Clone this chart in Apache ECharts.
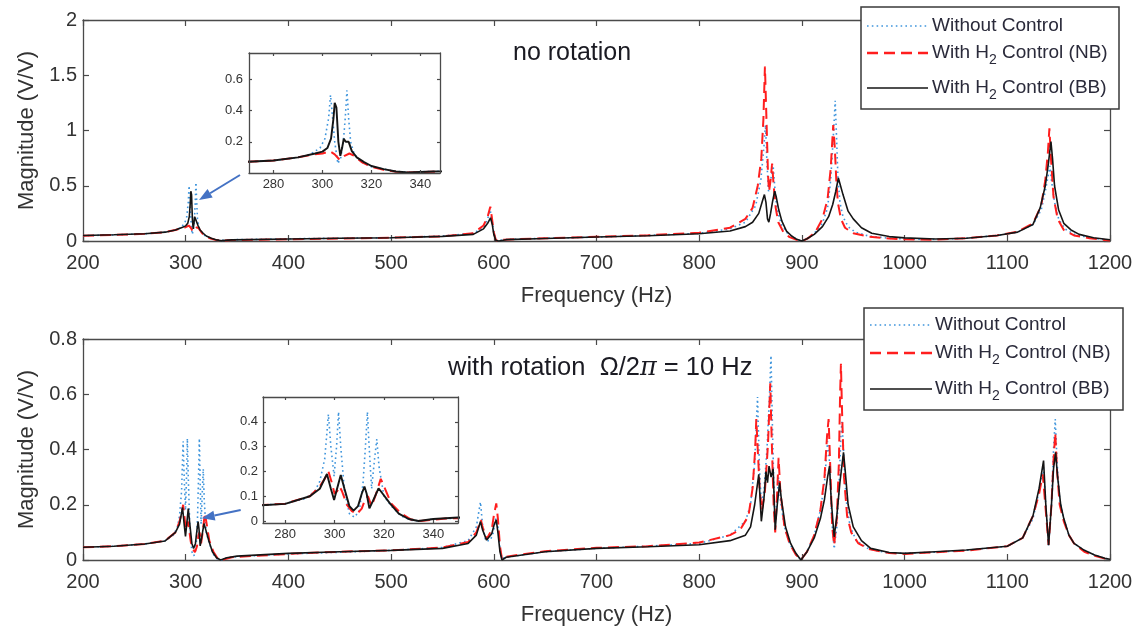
<!DOCTYPE html>
<html><head><meta charset="utf-8">
<script src="https://cdn.jsdelivr.net/npm/echarts@6/dist/echarts.min.js"></script>
<style>html,body{margin:0;padding:0;background:#fff}#c{width:1134px;height:628px}</style>
</head><body><div id="c"></div>
<script>
// ---------- DATA (frequency Hz, magnitude V/V) ----------
const legendNames = ['Without Control', 'With H2 Control (NB)', 'With H2 Control (BB)'];
const mainXTicks = [200,300,400,500,600,700,800,900,1000,1100,1200];
const topYTicks = [0,0.5,1,1.5,2];
const botYTicks = [0,0.2,0.4,0.6,0.8];
const insetXTicks = [280,300,320,340];
const topInsetYTicks = [0.2,0.4,0.6];
const botInsetYTicks = [0,0.1,0.2,0.3,0.4];

// no rotation
const topWithout = [[200,0.048],[230,0.055],[260,0.065],[280,0.08],[290,0.1],[295,0.12],[299,0.16],[301,0.22],[302.5,0.35],[303.3,0.5],[304,0.38],[305,0.2],[306.3,0.06],[307.5,0.1],[308.5,0.2],[309.3,0.35],[310,0.53],[310.7,0.35],[311.5,0.2],[313,0.12],[316,0.07],[320,0.04],[325,0.025],[330,0.01],[335,0.005],[340,0.008],[350,0.012],[400,0.02],[450,0.025],[500,0.03],[550,0.045],[580,0.07],[590,0.12],[594,0.2],[596.5,0.28],[598,0.2],[600,0.08],[602,0.01],[605,0.005],[615,0.015],[650,0.025],[700,0.035],[750,0.05],[800,0.07],[830,0.11],[845,0.17],[855,0.32],[860,0.55],[863,0.85],[864.5,1.05],[866,0.7],[867.5,0.45],[868.5,0.5],[870.5,0.6],[872,0.68],[873.5,0.5],[875.5,0.3],[880,0.15],[886,0.07],[892,0.03],[898,0.005],[900,0],[905,0.02],[912,0.07],[920,0.16],[925,0.3],[928,0.55],[930,0.85],[931.5,1.1],[932.4,1.27],[933.5,1.0],[935,0.6],[937,0.35],[940,0.22],[945,0.13],[952,0.08],[965,0.045],[985,0.025],[1000,0.018],[1030,0.015],[1060,0.025],[1090,0.05],[1110,0.08],[1125,0.15],[1133,0.28],[1137,0.45],[1140,0.6],[1141.5,0.68],[1143,0.55],[1146,0.35],[1150,0.2],[1156,0.11],[1165,0.06],[1180,0.03],[1195,0.012],[1200,0.008]];
const topNB = [[200,0.048],[230,0.055],[260,0.065],[280,0.08],[290,0.1],[297,0.12],[300,0.125],[303,0.14],[305,0.12],[307,0.085],[309,0.11],[311,0.125],[313,0.11],[316,0.07],[320,0.04],[325,0.02],[330,0.008],[335,0.003],[345,0.008],[400,0.015],[450,0.022],[500,0.03],[550,0.042],[580,0.07],[590,0.14],[594,0.22],[596.6,0.31],[598,0.22],[600,0.08],[602,0.01],[604,0],[610,0.012],[650,0.025],[700,0.038],[750,0.052],[800,0.075],[830,0.12],[845,0.2],[852,0.3],[857,0.5],[860.5,0.75],[862.5,1.1],[864,1.58],[865.5,1.1],[867,0.6],[868,0.45],[869.5,0.55],[871,0.7],[872.5,0.5],[874.5,0.3],[877,0.17],[882,0.08],[888,0.035],[895,0.01],[900,0],[906,0.025],[913,0.08],[920,0.2],[925,0.38],[928,0.65],[930.5,1.05],[932,0.85],[933.5,0.55],[935,0.35],[938,0.2],[942,0.12],[950,0.07],[965,0.04],[985,0.022],[1000,0.015],[1030,0.012],[1060,0.025],[1090,0.05],[1110,0.085],[1125,0.16],[1133,0.32],[1137,0.55],[1139.5,0.8],[1141,1.02],[1142.5,0.75],[1145,0.4],[1149,0.2],[1155,0.1],[1165,0.05],[1180,0.025],[1195,0.01],[1200,0.005]];
const topBB = [[200,0.05],[230,0.056],[260,0.066],[280,0.08],[290,0.1],[297,0.125],[300,0.137],[302,0.16],[303.5,0.22],[304.5,0.35],[305,0.45],[305.7,0.42],[306.5,0.2],[307.3,0.11],[308,0.16],[308.7,0.22],[309.5,0.2],[310.7,0.2],[312,0.14],[314,0.1],[317,0.07],[320,0.045],[325,0.025],[330,0.01],[335,0.003],[345,0.01],[400,0.018],[450,0.025],[500,0.03],[550,0.042],[580,0.06],[590,0.11],[594,0.16],[596.8,0.21],[598.5,0.15],[600,0.06],[602,0.005],[605,0],[612,0.012],[650,0.022],[700,0.036],[750,0.048],[800,0.065],[830,0.09],[845,0.13],[852,0.17],[858,0.25],[861.5,0.36],[863.5,0.42],[865,0.35],[866.5,0.2],[867.8,0.17],[869.5,0.25],[871.5,0.36],[873.5,0.45],[875,0.4],[877.5,0.28],[880.5,0.18],[885,0.09],[890,0.045],[895,0.015],[900,0],[905,0.02],[912,0.06],[920,0.13],[926,0.22],[930,0.33],[933,0.45],[935.5,0.57],[937,0.52],[940,0.42],[945,0.27],[950,0.2],[958,0.12],[968,0.07],[985,0.04],[1000,0.028],[1030,0.018],[1060,0.025],[1090,0.05],[1110,0.08],[1125,0.15],[1132,0.3],[1137,0.5],[1140,0.7],[1142.5,0.9],[1144,0.75],[1146,0.5],[1150,0.28],[1155,0.16],[1162,0.1],[1170,0.06],[1184,0.03],[1200,0.012]];

// with rotation 10 Hz
const botWithout = [[200,0.046],[230,0.05],[260,0.058],[280,0.07],[288,0.09],[292,0.12],[294,0.16],[296,0.25],[297.5,0.43],[298.5,0.3],[299.8,0.18],[300.8,0.3],[301.6,0.44],[302.5,0.3],[304,0.12],[306,0.03],[308,0.015],[310,0.04],[311.5,0.15],[312.5,0.3],[313.3,0.44],[314,0.3],[315,0.13],[316.2,0.25],[317.1,0.33],[318,0.22],[320,0.1],[323,0.06],[327,0.02],[331,0.003],[335,0],[340,0.008],[350,0.012],[400,0.022],[450,0.028],[500,0.035],[550,0.045],[575,0.07],[583,0.12],[587,0.21],[589,0.13],[592,0.07],[596,0.07],[599,0.09],[602,0.15],[604,0.12],[606,0.04],[608,0.005],[612,0.01],[650,0.03],[700,0.042],[750,0.05],[800,0.06],[830,0.09],[845,0.14],[850,0.2],[854,0.35],[856.8,0.59],[858.5,0.35],[860.5,0.2],[863,0.25],[866,0.4],[868.5,0.6],[869.9,0.74],[871.5,0.45],[873.5,0.15],[875.5,0.2],[877.3,0.3],[879,0.22],[883,0.12],[888,0.06],[894,0.02],[899,0.002],[905,0.03],[912,0.09],[918,0.18],[922,0.28],[925,0.43],[927,0.35],[929,0.15],[931.4,0.04],[934,0.12],[936,0.25],[938,0.45],[939,0.5],[940.5,0.4],[943,0.22],[947,0.12],[953,0.07],[965,0.04],[985,0.025],[1000,0.025],[1030,0.028],[1060,0.035],[1100,0.05],[1115,0.08],[1125,0.15],[1131,0.25],[1135,0.34],[1137.5,0.2],[1140.2,0.05],[1143,0.2],[1145,0.4],[1146.7,0.51],[1148.5,0.35],[1151,0.22],[1155,0.15],[1160,0.09],[1165,0.06],[1175,0.035],[1185,0.018],[1195,0.006],[1200,0.003]];
const botNB = [[200,0.046],[230,0.05],[260,0.058],[280,0.07],[290,0.1],[294,0.14],[296,0.17],[297.5,0.2],[299,0.15],[300,0.11],[301,0.12],[302,0.14],[303,0.12],[305,0.065],[307,0.04],[309,0.028],[311,0.05],[312.5,0.09],[313.5,0.1],[315,0.06],[316.5,0.1],[318.7,0.17],[320,0.14],[323,0.07],[327,0.03],[331,0.006],[335,0],[345,0.01],[400,0.022],[450,0.03],[500,0.035],[550,0.045],[575,0.065],[583,0.1],[587.5,0.145],[589,0.12],[593,0.075],[598,0.11],[600,0.16],[602.4,0.205],[604,0.15],[606,0.05],[608,0.003],[612,0.012],[650,0.032],[700,0.044],[750,0.05],[800,0.063],[830,0.09],[840,0.11],[848,0.16],[852,0.26],[854.5,0.4],[855.6,0.51],[857,0.4],[859,0.25],[861,0.18],[864,0.25],[867,0.42],[869.2,0.64],[870.5,0.45],[872.5,0.2],[874,0.1],[876,0.25],[877.3,0.37],[879,0.25],[883,0.12],[888,0.06],[894,0.02],[899,0],[905,0.03],[912,0.09],[918,0.18],[922,0.3],[924.5,0.45],[926,0.51],[927.5,0.35],[929.5,0.12],[931.4,0.054],[934,0.15],[936,0.35],[937.2,0.6],[938,0.71],[939,0.55],[941,0.3],[944,0.16],[948,0.1],[955,0.06],[965,0.04],[985,0.025],[1000,0.022],[1030,0.028],[1060,0.034],[1100,0.05],[1115,0.08],[1125,0.16],[1131,0.24],[1134.5,0.31],[1137,0.2],[1140.2,0.055],[1143,0.2],[1145,0.36],[1146.7,0.46],[1148.5,0.32],[1151,0.2],[1155,0.14],[1160,0.09],[1165,0.06],[1175,0.03],[1185,0.015],[1195,0.005],[1200,0.002]];
const botBB = [[200,0.046],[230,0.05],[260,0.058],[280,0.069],[290,0.1],[294,0.13],[296.9,0.19],[298.5,0.13],[299.8,0.085],[301,0.13],[302.5,0.186],[304,0.13],[306,0.06],[307.7,0.042],[309.5,0.06],[311,0.11],[312.1,0.139],[313,0.11],[314.1,0.051],[315.5,0.08],[317.8,0.132],[319.5,0.11],[322.5,0.07],[326,0.03],[330,0.008],[334,0],[340,0.008],[350,0.014],[400,0.024],[450,0.03],[500,0.035],[550,0.042],[575,0.06],[583,0.09],[587,0.139],[589,0.11],[593,0.072],[598,0.095],[600.5,0.13],[602.4,0.145],[604,0.1],[606,0.03],[608,0],[612,0.01],[650,0.03],[700,0.042],[750,0.048],[800,0.055],[830,0.07],[845,0.09],[850,0.12],[854,0.2],[858,0.31],[860.5,0.14],[863,0.22],[865,0.32],[866.5,0.28],[868,0.34],[870,0.3],[872,0.33],[874,0.11],[876,0.2],[878.3,0.28],[880,0.22],[884,0.12],[889,0.06],[894,0.025],[899,0],[905,0.03],[912,0.08],[918,0.15],[922,0.22],[925,0.3],[926.9,0.34],[928.5,0.22],[931.4,0.084],[934,0.16],[937,0.28],[940.5,0.39],[942,0.33],[945,0.2],[950,0.12],[958,0.07],[967,0.042],[985,0.027],[1000,0.024],[1030,0.03],[1060,0.036],[1100,0.05],[1115,0.08],[1125,0.16],[1131,0.26],[1135.3,0.36],[1137.5,0.2],[1140.2,0.054],[1143,0.2],[1145,0.33],[1147,0.39],[1149,0.3],[1152,0.2],[1155,0.15],[1160,0.09],[1165,0.06],[1175,0.035],[1185,0.018],[1195,0.006],[1200,0.003]];

// ---------- STYLE ----------
const FONT = '"Liberation Sans", Arial, sans-serif';
const AX = '#4a4a4a';
const TXT = '#333333';
const C_BLUE = '#3f95dc', C_RED = '#ff1e1e', C_BLACK = '#151515';
const lineStyles = [
  {color: C_BLUE, width: 1.6, type: [1.6, 3.2]},
  {color: C_RED, width: 2, type: [11, 6]},
  {color: C_BLACK, width: 1.6, type: 'solid'}
];

const gridBase = {outerBoundsMode: 'none', containLabel: false};
const grids = [
  Object.assign({left: 83, top: 20, width: 1027, height: 221}, gridBase),
  Object.assign({left: 249, top: 53, width: 191, height: 120, z: 10, show: true, backgroundColor: '#fff', borderWidth: 0}, gridBase),
  Object.assign({left: 83, top: 339, width: 1027, height: 221}, gridBase),
  Object.assign({left: 263, top: 397, width: 195, height: 126, z: 10, show: true, backgroundColor: '#fff', borderWidth: 0}, gridBase)
];

function plain(v) { return String(Math.round(v * 1000) / 1000); }

function axPair(dim, gi, min, max, o) {
  const base = {
    type: 'value', gridIndex: gi, min: min, max: max, z: o.z || 0,
    axisLine: {show: true, onZero: false, lineStyle: {color: AX, width: 1.3}},
    splitLine: {show: false}
  };
  if (o.interval) base.interval = o.interval;
  const tick = {show: true, inside: true, length: o.tick, lineStyle: {color: AX, width: 1.2}};
  if (o.custom) tick.customValues = o.custom;
  const lab = {show: true, color: TXT, fontSize: o.fs, fontFamily: FONT, margin: o.margin, formatter: plain,
               showMinLabel: true, showMaxLabel: true, hideOverlap: false};
  if (o.custom) lab.customValues = o.custom;
  const a = Object.assign({}, base, {position: dim === 'x' ? 'bottom' : 'left', axisTick: tick, axisLabel: lab});
  if (o.name) {
    a.name = o.name; a.nameLocation = 'middle'; a.nameGap = o.nameGap;
    a.nameTextStyle = {fontSize: 22, fontFamily: FONT, color: TXT};
  }
  const b = Object.assign({}, base, {position: dim === 'x' ? 'top' : 'right', axisTick: tick, axisLabel: {show: false}});
  return [a, b];
}

const xAxes = [].concat(
  axPair('x', 0, 200, 1200, {interval: 100, tick: 6, fs: 20, margin: 12, name: 'Frequency (Hz)', nameGap: 44}),
  axPair('x', 1, 270, 348, {custom: insetXTicks, tick: 3, fs: 13, margin: 5, z: 12}),
  axPair('x', 2, 200, 1200, {interval: 100, tick: 6, fs: 20, margin: 12, name: 'Frequency (Hz)', nameGap: 44}),
  axPair('x', 3, 271, 350, {custom: insetXTicks, tick: 3, fs: 13, margin: 5, z: 12})
);
const yAxes = [].concat(
  axPair('y', 0, 0, 2, {interval: 0.5, tick: 6, fs: 20, margin: 6, name: 'Magnitude (V/V)', nameGap: 41}),
  axPair('y', 1, 0, 0.77, {custom: topInsetYTicks, tick: 3, fs: 13, margin: 6, z: 12}),
  axPair('y', 2, 0, 0.8, {interval: 0.2, tick: 6, fs: 20, margin: 6, name: 'Magnitude (V/V)', nameGap: 41}),
  axPair('y', 3, -0.008, 0.5, {custom: botInsetYTicks, tick: 3, fs: 13, margin: 5, z: 12})
);
const dataSets = [[topWithout, topNB, topBB], [botWithout, botNB, botBB]];
const series = [];
[0, 1, 2, 3].forEach(function (gi) {
  const ds = dataSets[gi < 2 ? 0 : 1];
  const inset = gi % 2 === 1;
  ds.forEach(function (d, k) {
    series.push({
      type: 'line', name: legendNames[k], data: d,
      xAxisIndex: 2 * gi, yAxisIndex: 2 * gi,
      showSymbol: false, symbol: 'none', clip: true, animation: false,
      z: inset ? 11 : 2,
      lineStyle: Object.assign({}, lineStyles[k], inset ? {width: lineStyles[k].width * (k === 2 ? 1.2 : 1)} : {})
    });
  });
});

// ---------- annotations: legends, labels, arrows ----------
function legendBox(x, y, w, h, rows, lx1, lx2, tx) {
  const els = [{type: 'rect', z: 100, shape: {x: x, y: y, width: w, height: h},
    style: {fill: '#fff', stroke: '#3a3a3a', lineWidth: 1.5}}];
  rows.forEach(function (ry, k) {
    const ls = lineStyles[k];
    els.push({type: 'line', z: 101, shape: {x1: lx1, y1: ry, x2: lx2, y2: ry},
      style: {stroke: ls.color, lineWidth: ls.width + (k === 1 ? 0.5 : 0), lineDash: Array.isArray(ls.type) ? ls.type : null}});
    const parts = legendNames[k].split('H2');
    const txt = parts.length > 1 ? '{a|' + parts[0] + 'H}{s|2}{a|' + parts[1] + '}' : '{a|' + parts[0] + '}';
    els.push({type: 'text', z: 101, x: tx, y: ry, style: {
      text: txt, verticalAlign: 'middle', align: 'left',
      rich: {a: {fontSize: 19, fontFamily: FONT, fill: '#2a2a3a'},
             s: {fontSize: 14, fontFamily: FONT, fill: '#2a2a3a', padding: [14, 0, 0, 0]}}
    }});
  });
  return els;
}
function arrow(x1, y1, x2, y2) {
  const dx = x2 - x1, dy = y2 - y1, L = Math.sqrt(dx * dx + dy * dy);
  const ux = dx / L, uy = dy / L, hl = 13, hw = 5;
  const bx = x2 - hl * ux, by = y2 - hl * uy;
  return [
    {type: 'line', z: 100, shape: {x1: x1, y1: y1, x2: bx, y2: by}, style: {stroke: '#4472c4', lineWidth: 2}},
    {type: 'polygon', z: 100, shape: {points: [[x2, y2], [bx - hw * uy, by + hw * ux], [bx + hw * uy, by - hw * ux]]},
      style: {fill: '#4472c4'}}
  ];
}

const graphic = [].concat(
  legendBox(861, 7, 258, 102, [26, 53, 88], 867, 928, 932),
  legendBox(864, 308, 259, 102, [325, 353, 389], 870, 932, 935),
  [{type: 'text', x: 513, y: 53, z: 100, style: {text: 'no rotation', fontSize: 25, fontFamily: FONT, fill: '#1a1a22', verticalAlign: 'middle'}},
   {type: 'text', x: 448, y: 368, z: 100, style: {
    text: '{t|with rotation  Ω/2}{p|π}{t| = 10 Hz}', verticalAlign: 'middle',
    rich: {t: {fontSize: 25.5, fontFamily: FONT, fill: '#1a1a22'},
           p: {fontSize: 25.5, fontFamily: '"DejaVu Serif", serif', fontStyle: 'italic', fill: '#1a1a22'}}
   }}],
  arrow(240, 175, 199, 200),
  arrow(240.7, 510, 201.7, 518.3)
);

const chart = echarts.init(document.getElementById('c'), null, {renderer: 'canvas'});
chart.setOption({
  backgroundColor: '#ffffff',
  animation: false,
  grid: grids,
  xAxis: xAxes,
  yAxis: yAxes,
  series: series,
  graphic: {elements: graphic}
});
</script>
</body></html>
